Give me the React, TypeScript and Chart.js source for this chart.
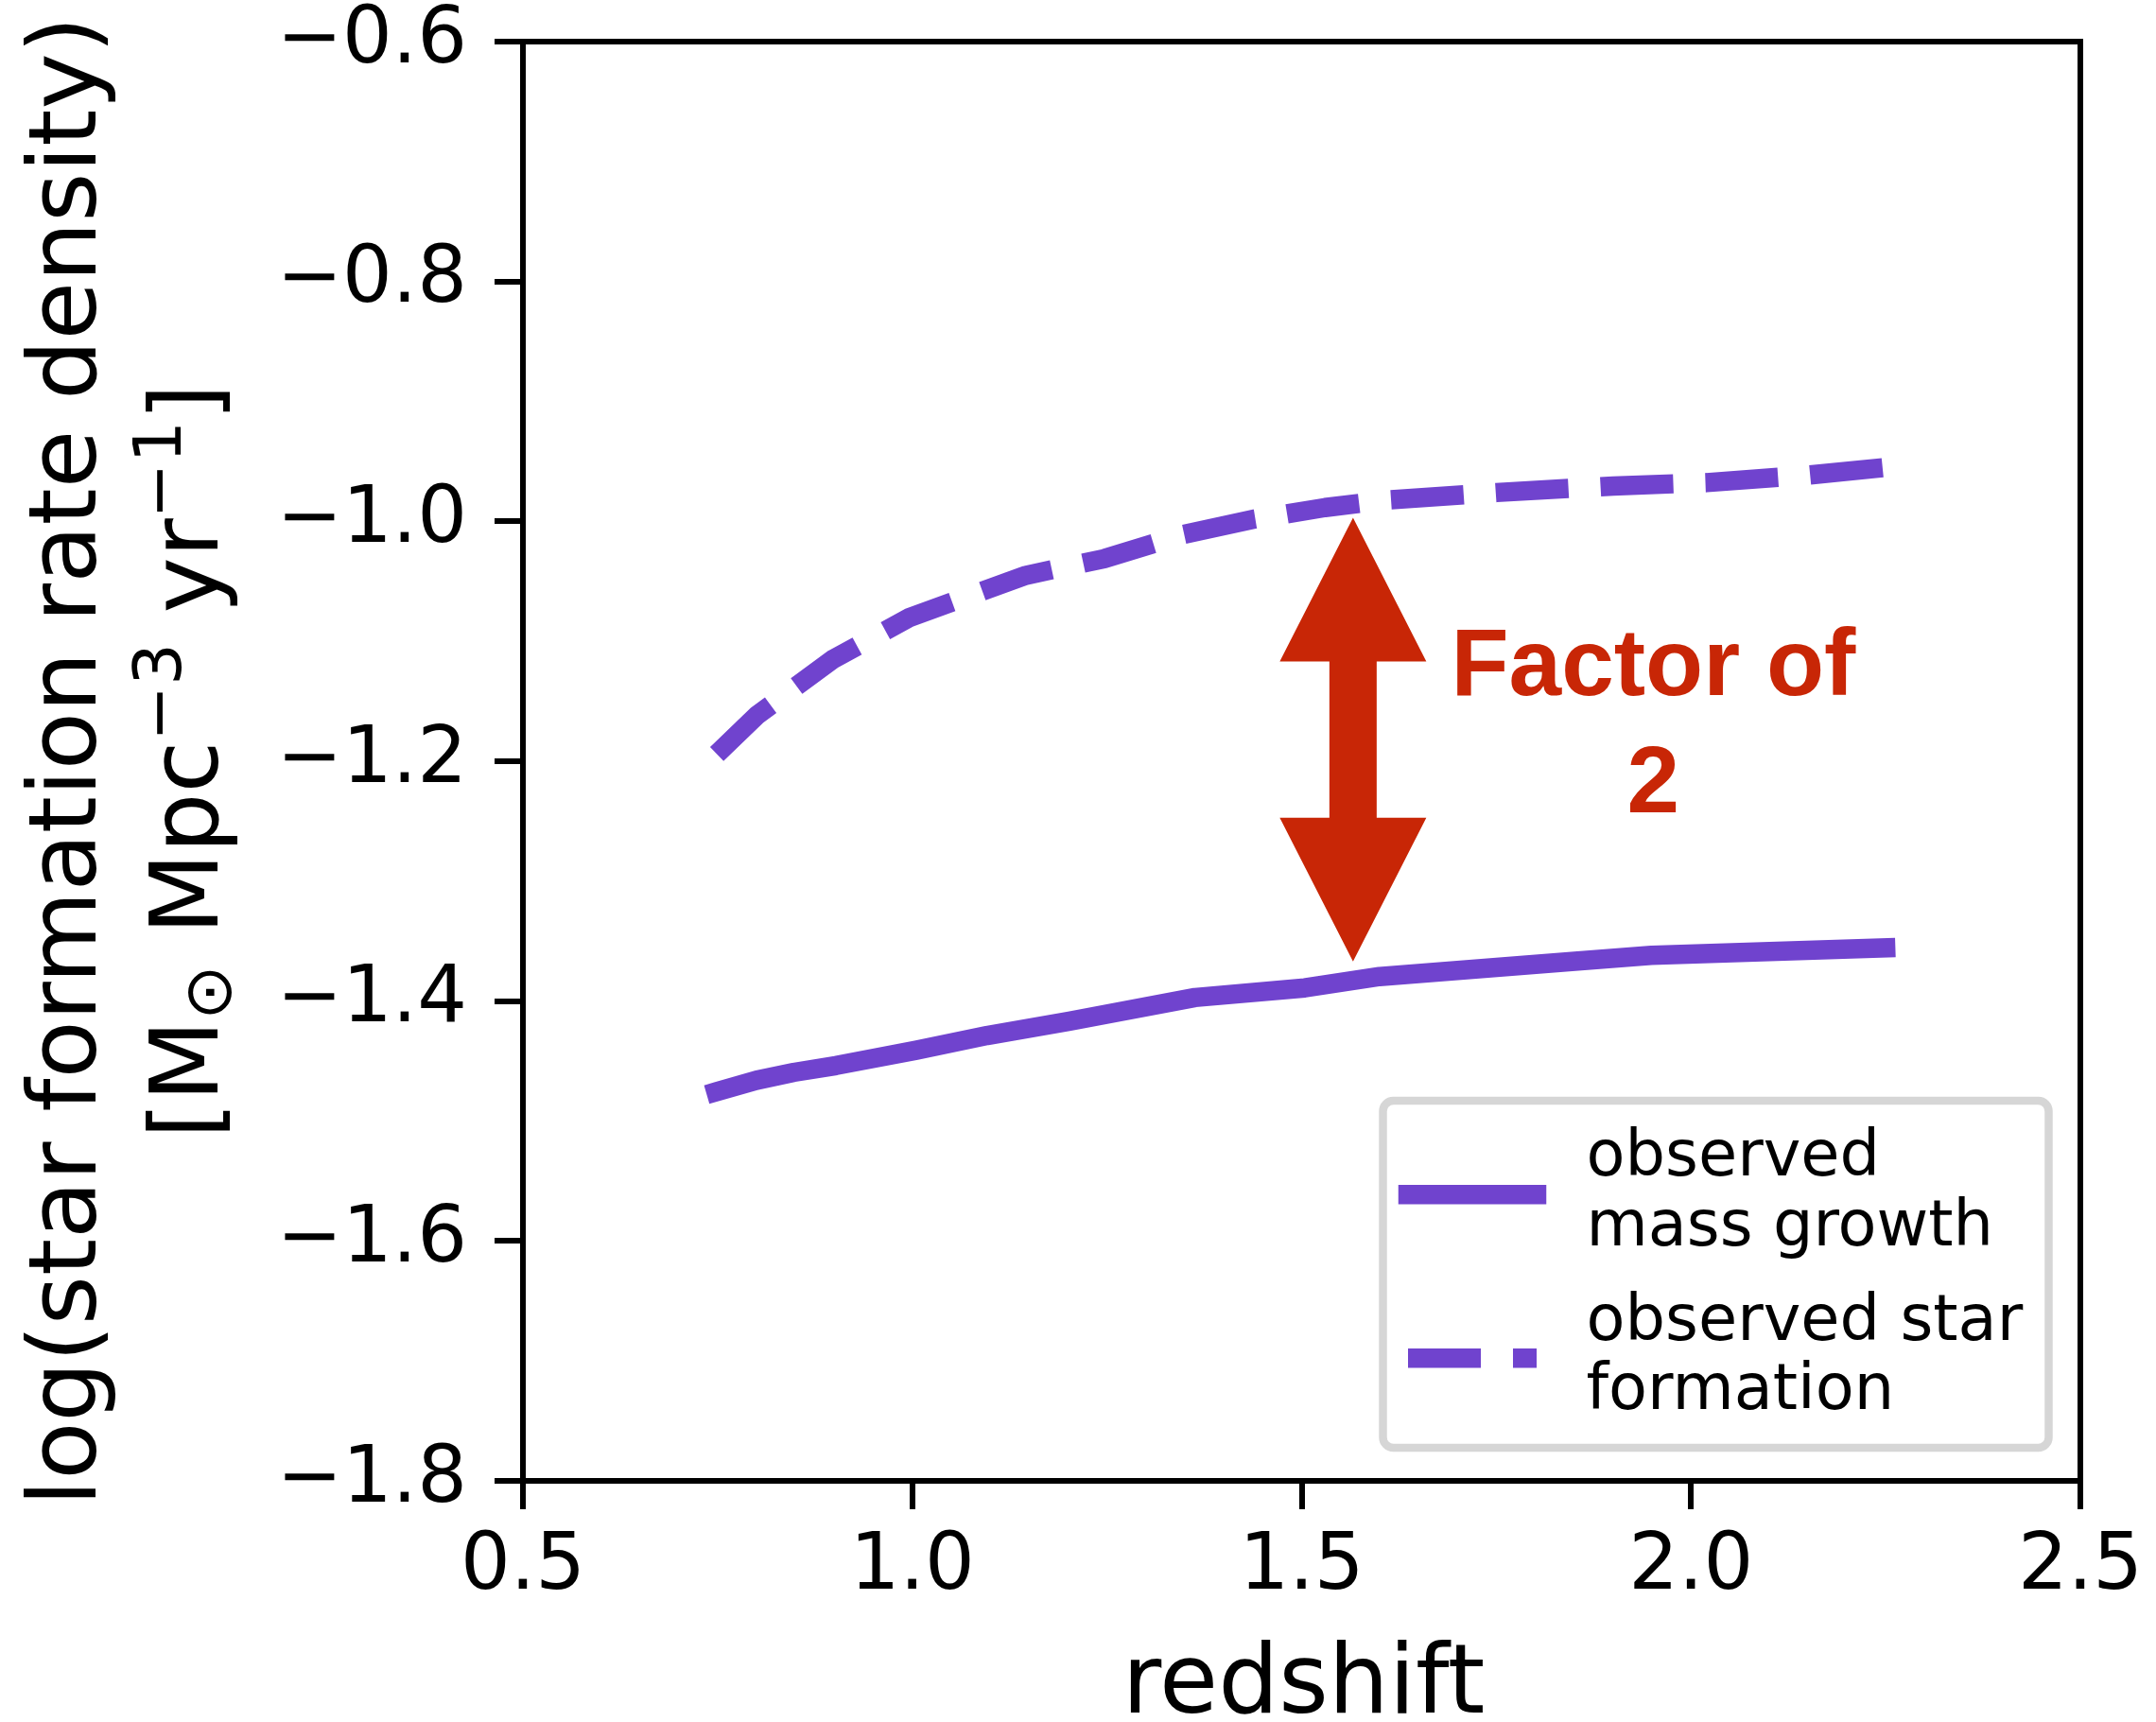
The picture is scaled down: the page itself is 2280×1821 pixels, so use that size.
import { useEffect, useRef } from 'react';
import { Chart, registerables } from 'chart.js';

Chart.register(...registerables);

// ---- data ----
const massGrowthZ = [0.748, 0.8, 0.848, 0.902, 1.005, 1.096, 1.202, 1.363, 1.504, 1.6, 1.847, 1.949, 2.25];
const massGrowthLog = [-1.4757, -1.466, -1.4594, -1.4537, -1.441, -1.4287, -1.4168, -1.397, -1.389, -1.3795, -1.367, -1.3619, -1.3555];

const starFormationZ = [0.749, 0.8, 0.898, 0.997, 1.146, 1.247, 1.348, 1.44, 1.53, 1.61, 1.75, 1.9, 2.02, 2.15, 2.25];
const starFormationLog = [-1.194, -1.162, -1.115, -1.08, -1.045, -1.031, -1.011, -0.998, -0.9885, -0.9822, -0.976, -0.9705, -0.9677, -0.9615, -0.955];

const xTickValues = [0.5, 1.0, 1.5, 2.0, 2.5];
const yTickValues = [-1.8, -1.6, -1.4, -1.2, -1.0, -0.8, -0.6];

const massGrowthLabel = ['observed', 'mass growth'];
const starFormationLabel = ['observed star', 'formation'];

const xTitle = 'redshift';
const yTitleLine1 = 'log(star formation rate density)';
// runs: text, relative size, rise (in units of the base font size)
const yTitleLine2 = [
  { t: '[', s: 1, r: 0 },
  { t: 'M', s: 1, r: 0 },
  { t: '\u2299', s: 0.7, r: -0.14 },
  { t: ' Mpc', s: 1, r: 0 },
  { t: '\u22123', s: 0.7, r: 0.39 },
  { t: ' yr', s: 1, r: 0 },
  { t: '\u22121', s: 0.7, r: 0.39 },
  { t: ']', s: 1, r: 0 },
];

const arrowZ = 1.566;
const arrowTopLog = -0.997;
const arrowBottomLog = -1.367;
const annotationLines = ['Factor of', '2'];
const annotationZ = 1.954;
const annotationLog = -1.1448;

const PURPLE = '#7043CE';
const RED = '#C82606';
const FRAME = '#D6D6D6';
const FONT = "'DejaVu Sans', sans-serif";

const fmt = (v: number) => Number(v).toFixed(1).replace('-', '\u2212');

const overlayPlugin = {
  id: 'overlay',
  afterDatasetsDraw(chart: any) {
    const ctx: CanvasRenderingContext2D = chart.ctx;
    const { left, right, top, bottom } = chart.chartArea;
    const xs = chart.scales.x;
    const ys = chart.scales.y;
    ctx.save();

    // spines
    ctx.strokeStyle = '#000';
    ctx.lineWidth = 6;
    ctx.lineJoin = 'miter';
    ctx.strokeRect(left, top, right - left, bottom - top);

    // double arrow
    const ax = xs.getPixelForValue(arrowZ);
    const ayT = ys.getPixelForValue(arrowTopLog);
    const ayB = ys.getPixelForValue(arrowBottomLog);
    const hw = 77.5, sw = 25, hl = 152;
    ctx.fillStyle = RED;
    ctx.beginPath();
    ctx.moveTo(ax, ayT);
    ctx.lineTo(ax + hw, ayT + hl);
    ctx.lineTo(ax + sw, ayT + hl);
    ctx.lineTo(ax + sw, ayB - hl);
    ctx.lineTo(ax + hw, ayB - hl);
    ctx.lineTo(ax, ayB);
    ctx.lineTo(ax - hw, ayB - hl);
    ctx.lineTo(ax - sw, ayB - hl);
    ctx.lineTo(ax - sw, ayT + hl);
    ctx.lineTo(ax - hw, ayT + hl);
    ctx.closePath();
    ctx.fill();

    // annotation text
    const tx = xs.getPixelForValue(annotationZ);
    const ty = ys.getPixelForValue(annotationLog);
    ctx.font = "bold 100px 'Liberation Sans', Arial, sans-serif";
    ctx.textAlign = 'center';
    ctx.textBaseline = 'alphabetic';
    annotationLines.forEach((l, i) => ctx.fillText(l, tx - 2, ty + i * 123.7));

    // legend
    const lx0 = right - 737.5, lx1 = right - 33.5;
    const ly0 = bottom - 402, ly1 = bottom - 35;
    const rad = 11;
    ctx.beginPath();
    ctx.moveTo(lx0 + rad, ly0);
    ctx.arcTo(lx1, ly0, lx1, ly1, rad);
    ctx.arcTo(lx1, ly1, lx0, ly1, rad);
    ctx.arcTo(lx0, ly1, lx0, ly0, rad);
    ctx.arcTo(lx0, ly0, lx1, ly0, rad);
    ctx.closePath();
    ctx.fillStyle = '#fff';
    ctx.fill();
    ctx.strokeStyle = FRAME;
    ctx.lineWidth = 8.5;
    ctx.stroke();

    const hx0 = lx0 + 26.5, hx1 = lx0 + 162.5;
    ctx.strokeStyle = PURPLE;
    ctx.lineWidth = 20.5;
    ctx.lineCap = 'square';
    ctx.setLineDash([]);
    ctx.beginPath();
    ctx.moveTo(hx0, ly0 + 99.3);
    ctx.lineTo(hx1, ly0 + 99.3);
    ctx.stroke();
    ctx.lineCap = 'butt';
    ctx.setLineDash([77, 34]);
    ctx.beginPath();
    ctx.moveTo(hx0, ly0 + 272.3);
    ctx.lineTo(hx1, ly0 + 272.3);
    ctx.stroke();
    ctx.setLineDash([]);

    ctx.fillStyle = '#000';
    ctx.font = `67px ${FONT}`;
    ctx.textAlign = 'left';
    const tx0 = lx0 + 215;
    ctx.fillText(massGrowthLabel[0], tx0, ly0 + 79.3);
    ctx.fillText(massGrowthLabel[1], tx0, ly0 + 152.7);
    ctx.fillText(starFormationLabel[0], tx0, ly0 + 252.7);
    ctx.fillText(starFormationLabel[1], tx0, ly0 + 326);

    // x title
    ctx.font = `101px ${FONT}`;
    ctx.textAlign = 'center';
    ctx.fillText(xTitle, (left + right) / 2 + 2, bottom + 245);

    // y title (rotated)
    const cy = (top + bottom) / 2;
    ctx.save();
    ctx.translate(100.5, cy);
    ctx.rotate(-Math.PI / 2);
    ctx.font = `100px ${FONT}`;
    ctx.fillText(yTitleLine1, 0, 0);
    ctx.restore();

    ctx.save();
    ctx.translate(230, cy);
    ctx.rotate(-Math.PI / 2);
    ctx.textAlign = 'left';
    const base = 100;
    const widths = yTitleLine2.map((r) => {
      ctx.font = `${base * r.s}px ${FONT}`;
      return ctx.measureText(r.t).width;
    });
    const total = widths.reduce((a, b) => a + b, 0);
    let px = -total / 2;
    yTitleLine2.forEach((r, i) => {
      ctx.font = `${base * r.s}px ${FONT}`;
      ctx.fillText(r.t, px, -r.r * base);
      px += widths[i];
    });
    ctx.restore();

    ctx.restore();
  },
};

export default function App() {
  const ref = useRef<HTMLCanvasElement | null>(null);
  useEffect(() => {
    if (!ref.current) return;
    const chart = new Chart(ref.current, {
      type: 'line',
      data: {
        datasets: [
          {
            label: massGrowthLabel.join(' '),
            data: massGrowthZ.map((z, i) => ({ x: z, y: massGrowthLog[i] })),
            borderColor: PURPLE,
            borderWidth: 20.5,
            borderCapStyle: 'square',
            borderJoinStyle: 'round',
            pointRadius: 0,
            tension: 0,
            fill: false,
          },
          {
            label: starFormationLabel.join(' '),
            data: starFormationZ.map((z, i) => ({ x: z, y: starFormationLog[i] })),
            borderColor: PURPLE,
            borderWidth: 20.5,
            borderDash: [77, 34],
            borderCapStyle: 'butt',
            borderJoinStyle: 'round',
            pointRadius: 0,
            tension: 0,
            fill: false,
          },
        ],
      },
      options: {
        animation: false,
        responsive: false,
        maintainAspectRatio: false,
        devicePixelRatio: 1,
        layout: { padding: { left: 0, top: 44, right: 80, bottom: 0 } },
        plugins: {
          legend: { display: false },
          tooltip: { enabled: false },
          title: { display: false },
        },
        scales: {
          x: {
            type: 'linear',
            position: 'bottom',
            min: 0.5,
            max: 2.5,
            afterBuildTicks: (s: any) => {
              s.ticks = xTickValues.map((v) => ({ value: v }));
            },
            afterFit: (s: any) => {
              s.height = 255;
              s.paddingLeft = 0;
              s.paddingRight = 0;
              s.paddingTop = 0;
              s.paddingBottom = 0;
            },
            grid: {
              display: true,
              drawOnChartArea: false,
              drawTicks: true,
              tickLength: 30,
              tickWidth: 6,
              tickColor: '#000',
              color: '#000',
              lineWidth: 6,
            },
            border: { display: false },
            ticks: {
              color: '#000',
              font: { family: FONT, size: 83, lineHeight: 1.2 },
              padding: 13,
              maxRotation: 0,
              autoSkip: false,
              callback: (v: any) => fmt(v),
            },
          },
          y: {
            type: 'linear',
            position: 'left',
            min: -1.8,
            max: -0.6,
            afterBuildTicks: (s: any) => {
              s.ticks = yTickValues.map((v) => ({ value: v }));
            },
            afterFit: (s: any) => {
              s.width = 553;
              s.paddingLeft = 0;
              s.paddingRight = 0;
              s.paddingTop = 0;
              s.paddingBottom = 0;
            },
            grid: {
              display: true,
              drawOnChartArea: false,
              drawTicks: true,
              tickLength: 30,
              tickWidth: 6,
              tickColor: '#000',
              color: '#000',
              lineWidth: 6,
            },
            border: { display: false },
            ticks: {
              color: '#000',
              font: { family: FONT, size: 83, lineHeight: 1.2 },
              padding: 29,
              autoSkip: false,
              callback: (v: any) => fmt(v),
            },
          },
        },
      },
      plugins: [overlayPlugin],
    } as any);
    return () => chart.destroy();
  }, []);

  return (
    <div style={{ position: 'absolute', left: 0, top: 0, width: 2280, height: 1821, background: '#fff' }}>
      <canvas ref={ref} width={2280} height={1821} style={{ display: 'block', width: 2280, height: 1821 }} />
    </div>
  );
}
